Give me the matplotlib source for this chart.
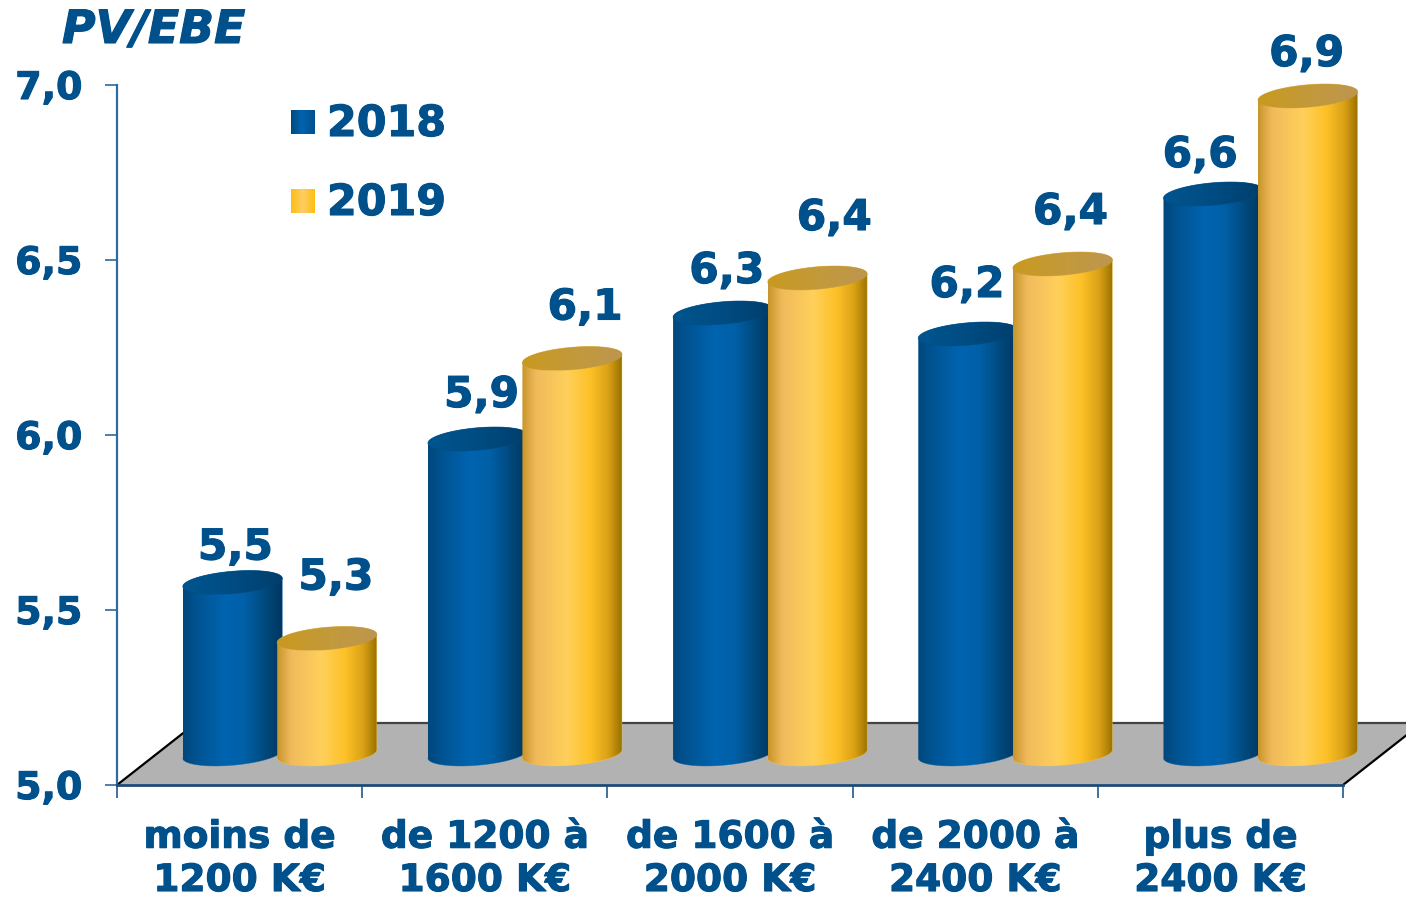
import numpy as np
import matplotlib
matplotlib.use("Agg")
import matplotlib.pyplot as plt
import matplotlib.patheffects as pe
from matplotlib.colors import LinearSegmentedColormap
from matplotlib.patches import Polygon
from matplotlib.text import Text

categories = ["moins de\n1200 K€", "de 1200 à\n1600 K€", "de 1600 à\n2000 K€",
              "de 2000 à\n2400 K€", "plus de\n2400 K€"]
values_2018 = [5.49, 5.90, 6.26, 6.20, 6.60]
values_2019 = [5.33, 6.13, 6.36, 6.40, 6.88]
labels_2018 = ["5,5", "5,9", "6,3", "6,2", "6,6"]
labels_2019 = ["5,3", "6,1", "6,4", "6,4", "6,9"]
y_ticks = [5.0, 5.5, 6.0, 6.5, 7.0]
y_tick_labels = ["5,0", "5,5", "6,0", "6,5", "7,0"]

# label offsets from the top of each cylinder, in pixels
offset_2018 = [(3, 38), (4, 47), (4, 45), (-1, 52), (-13, 42)]
offset_2019 = [(9, 64), (13, 54), (17, 63), (8, 55), (-1, 45)]

text_color = "#00508c"
axis_color = "#2f6a9f"

blue_body = LinearSegmentedColormap.from_list("blue_body", [
    (0, "#00477c"), (0.12, "#00528f"), (0.42, "#0064b0"), (0.62, "#005fa6"),
    (0.85, "#004677"), (1, "#00355f")])
blue_top = LinearSegmentedColormap.from_list("blue_top", ["#00558f", "#004c82", "#003e6c"])
gold_body = LinearSegmentedColormap.from_list("gold_body", [
    (0, "#c8952c"), (0.14, "#f0ba5c"), (0.45, "#ffd05a"), (0.68, "#fdc128"),
    (0.86, "#dca217"), (1, "#9a7200")])
gold_top = LinearSegmentedColormap.from_list("gold_top", ["#c9991f", "#c39a3a", "#bd9650"])

fig = plt.figure(figsize=(14.06, 8.97), dpi=100)
W, H = 1406, 897
ax = fig.add_axes([117 / W, 1 - 785 / H, (1343 - 117) / W, 700 / H])
ax.set_xlim(0, 5)
ax.set_ylim(5, 7)

# size of one pixel in data units
px_x = 5 / 1226
px_y = 2 / 700

# floor
depth_x, depth_y = 79 * px_x, 62 * px_y
floor = Polygon([(0, 5), (5, 5), (5 + depth_x, 5 + depth_y), (depth_x, 5 + depth_y)],
                closed=True, facecolor="#b2b2b2", edgecolor="none", clip_on=False, zorder=1)
ax.add_patch(floor)
ax.plot([0, depth_x], [5, 5 + depth_y], color="black", lw=1.6, clip_on=False, zorder=1.5)
ax.plot([5, 5 + depth_x], [5, 5 + depth_y], color="black", lw=1.6, clip_on=False, zorder=1.5)
ax.plot([depth_x, 5 + depth_x], [5 + depth_y, 5 + depth_y], color="#444444", lw=1.6,
        clip_on=False, zorder=1.5)


def ellipse_arc(cx, cy, start, end):
    # tilted ellipse, worked out in pixels then put back in data units
    a, b, tilt = 50, 11.2, np.radians(5)
    t = np.radians(np.linspace(start, end, 80))
    x = a * np.cos(t) * np.cos(tilt) - b * np.sin(t) * np.sin(tilt)
    y = a * np.cos(t) * np.sin(tilt) + b * np.sin(t) * np.cos(tilt)
    return np.column_stack([cx + x * px_x, cy + y * px_y])


def gradient(points, cmap, z):
    poly = Polygon(points, closed=True, transform=ax.transData, facecolor="none", edgecolor="none")
    x0, x1 = points[:, 0].min(), points[:, 0].max()
    y0, y1 = points[:, 1].min(), points[:, 1].max()
    im = ax.imshow(np.linspace(0, 1, 256).reshape(1, -1), cmap=cmap, aspect="auto",
                   extent=(x0, x1, y0, y1), zorder=z)
    im.set_clip_box(fig.bbox)
    im.set_clip_path(poly)
    # thin outline softens the stepped edge of the clipped image
    ax.plot(points[:, 0], points[:, 1], color=cmap(0.5), lw=0.5, alpha=0.5, clip_on=False, zorder=z)


def cylinder(xc, value, body, top, z):
    base_y = 5 + depth_y / 2
    top_y = value
    lower = ellipse_arc(xc, base_y, 180, 360)
    upper = ellipse_arc(xc, top_y, 0, 180)
    gradient(np.vstack([lower, upper]), body, z)
    gradient(ellipse_arc(xc, top_y, 0, 360), top, z + 0.1)


for i in range(len(categories)):
    x_blue = i + 0.5 + (232.5 - 239.6) * px_x
    x_gold = x_blue + 94.5 * px_x
    cylinder(x_blue, values_2018[i] + depth_y / 2, blue_body, blue_top, 3 + i)
    cylinder(x_gold, values_2019[i] + depth_y / 2, gold_body, gold_top, 3.5 + i)
    for xc, val, lab, off in [(x_blue, values_2018[i], labels_2018[i], offset_2018[i]),
                              (x_gold, values_2019[i], labels_2019[i], offset_2019[i])]:
        ax.text(xc + off[0] * px_x, val + depth_y / 2 + (off[1] - 15) * px_y, lab,
                ha="center", va="baseline", fontsize=30.5, fontweight="bold",
                color=text_color, clip_on=False, zorder=20)

ax.set_xlim(0, 5)
ax.set_ylim(5, 7)

for s in ["top", "right"]:
    ax.spines[s].set_visible(False)
ax.spines["left"].set_color(axis_color)
ax.spines["left"].set_linewidth(1.6)
ax.spines["bottom"].set_color("#1f4a78")
ax.spines["bottom"].set_linewidth(2)
ax.set_xticks(range(6))
ax.set_xticklabels([])
ax.set_xticks(np.arange(5) + 0.5, labels=categories, minor=True)
ax.set_yticks(y_ticks, labels=y_tick_labels)
ax.tick_params(axis="x", which="major", length=9, width=1.2, color="#1f5a90")
ax.tick_params(axis="x", which="minor", length=0, pad=25, labelsize=27, labelcolor=text_color)
ax.tick_params(axis="y", length=9, width=1.2, color=axis_color, pad=16, labelsize=27.3,
               labelcolor=text_color)
for t in ax.get_xticklabels(minor=True) + ax.get_yticklabels():
    t.set_fontweight("bold")
for t in ax.get_xticklabels(minor=True):
    t.set_linespacing(1.26)

fig.text(62 / W, 1 - 43 / H, "PV/EBE", fontsize=33, fontweight="bold", fontstyle="italic",
         color=text_color, ha="left", va="baseline")

# legend
swatches = [("2018", 110, [0, 0.45, 1], ["#004a80", "#0064b0", "#00508c"]),
            ("2019", 189, [0, 0.5, 1], ["#fdbf10", "#ffcc66", "#fdbf10"])]
for name, top_px, stops, colors in swatches:
    sw = fig.add_axes([291 / W, 1 - (top_px + 24) / H, 24 / W, 24 / H])
    sw.imshow(np.linspace(0, 1, 64).reshape(1, -1), aspect="auto",
              cmap=LinearSegmentedColormap.from_list(name, list(zip(stops, colors))))
    sw.axis("off")
    fig.text(327 / W, 1 - (top_px + 26) / H, name, fontsize=30.8, fontweight="bold",
             color=text_color, ha="left", va="baseline")

# the reference font is a little heavier than DejaVu bold
for t in fig.findobj(Text):
    t.set_path_effects([pe.withStroke(linewidth=0.8, foreground=text_color)])

fig.savefig("out.png", dpi=100)
